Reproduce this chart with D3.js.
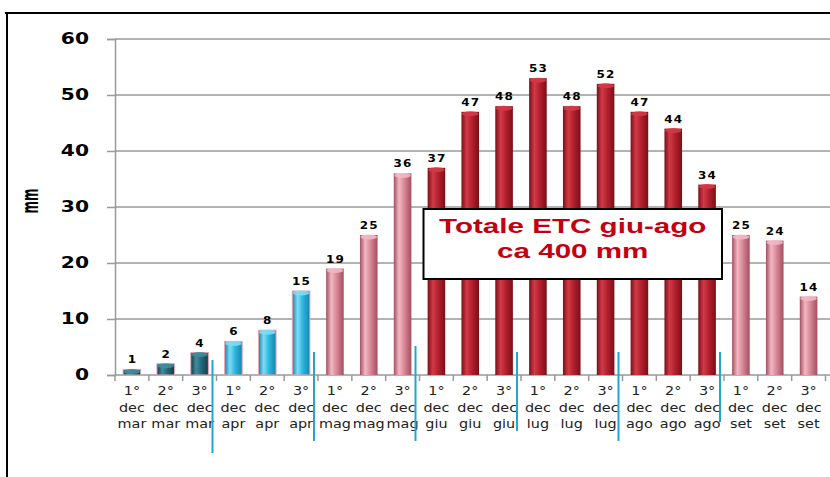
<!DOCTYPE html>
<html>
<head>
<meta charset="utf-8">
<script src="https://cdn.jsdelivr.net/npm/d3@7"></script>
<style>
  body { margin: 0; background: #fff; }
  svg { display: block; }
</style>
</head>
<body>
<script>
// decadi (1°, 2°, 3° dec) da marzo a settembre
var decadi = ["1°","2°","3°","1°","2°","3°","1°","2°","3°","1°","2°","3°","1°","2°","3°","1°","2°","3°","1°","2°","3°"];
var mesi = ["mar","mar","mar","apr","apr","apr","mag","mag","mag","giu","giu","giu","lug","lug","lug","ago","ago","ago","set","set","set"];
var etc = [1, 2, 4, 6, 8, 15, 19, 25, 36, 37, 47, 48, 53, 48, 52, 47, 44, 34, 25, 24, 14];
var yTicks = [0, 10, 20, 30, 40, 50, 60];

var width = 830, height = 477;

var svg = d3.select("body").append("svg")
    .attr("width", width)
    .attr("height", height);

// frame (top and left border)
svg.append("line").attr("x1", 5).attr("x2", width).attr("y1", 13).attr("y2", 13)
    .attr("stroke", "#000").attr("stroke-width", 2);
svg.append("line").attr("x1", 7).attr("x2", 7).attr("y1", 12).attr("y2", height)
    .attr("stroke", "#000").attr("stroke-width", 2);

var ids = d3.range(etc.length);
var x = d3.scaleBand().domain(ids).range([115, 825.5]).padding(0);
var y = d3.scaleLinear().domain([0, 60]).range([375, 39]);

// colour of each month (light, base, edge)
var palette = {
    mar: ["#3f8c9c", "#23687a", "#143c47"],
    apr: ["#7fdcf4", "#2ab5de", "#1783ab"],
    mag: ["#f2b8c3", "#d88796", "#a24f61"],
    giu: ["#d23a47", "#b2202d", "#7a0f18"],
    lug: ["#d23a47", "#b2202d", "#7a0f18"],
    ago: ["#d23a47", "#b2202d", "#7a0f18"],
    set: ["#f2b8c3", "#d88796", "#a24f61"]
};

var defs = svg.append("defs");
Object.keys(palette).forEach(function(m) {
    var c = palette[m];
    var g = defs.append("linearGradient").attr("id", "grad-" + m)
        .attr("x1", 0).attr("x2", 1).attr("y1", 0).attr("y2", 0);
    g.append("stop").attr("offset", "0%").attr("stop-color", c[2]);
    g.append("stop").attr("offset", "30%").attr("stop-color", c[0]);
    g.append("stop").attr("offset", "60%").attr("stop-color", c[1]);
    g.append("stop").attr("offset", "100%").attr("stop-color", c[2]);
});

// gridlines
svg.append("g").selectAll("line")
    .data(yTicks.filter(function(d) { return d > 0; }))
    .enter().append("line")
    .attr("x1", 115).attr("x2", width)
    .attr("y1", function(d) { return y(d); })
    .attr("y2", function(d) { return y(d); })
    .attr("stroke", "#999").attr("stroke-width", 1.5);

// y axis
var yAxis = svg.append("g")
    .attr("transform", "translate(115,0)")
    .call(d3.axisLeft(y).tickValues(yTicks).tickSize(8).tickFormat(d3.format("d")));
yAxis.select(".domain").attr("stroke", "#999").attr("stroke-width", 1.5);
yAxis.selectAll(".tick line").attr("stroke", "#999").attr("stroke-width", 1.5);
yAxis.selectAll(".tick text")
    .attr("x", 0).attr("dy", "0.3em")
    .attr("transform", "translate(-26,0) scale(1.35,1)")
    .attr("text-anchor", "end")
    .style("font-family", "DejaVu Sans")
    .style("font-weight", "bold")
    .style("font-size", "15px")
    .attr("fill", "#000");

// "mm" label
svg.append("text")
    .attr("transform", "translate(38,201) scale(1.9,1) rotate(-90)")
    .attr("text-anchor", "middle")
    .style("font-family", "DejaVu Sans")
    .style("font-weight", "bold")
    .style("font-size", "12px")
    .text("mm");

// x axis
var xAxis = svg.append("g")
    .attr("transform", "translate(0," + y(0) + ")");
xAxis.append("line").attr("x1", 115).attr("x2", width).attr("stroke", "#999").attr("stroke-width", 1.5);
xAxis.selectAll(".xt")
    .data(d3.range(etc.length + 1))
    .enter().append("line")
    .attr("class", "xt")
    .attr("x1", function(i) { return x.range()[0] + i * x.step(); })
    .attr("x2", function(i) { return x.range()[0] + i * x.step(); })
    .attr("y1", 0).attr("y2", 6)
    .attr("stroke", "#999").attr("stroke-width", 1.5);

var labels = svg.append("g").selectAll("g")
    .data(ids)
    .enter().append("g")
    .attr("transform", function(i) { return "translate(" + (x(i) + x.bandwidth() / 2) + ",0) scale(1.2,1)"; })
    .style("font-family", "DejaVu Sans")
    .style("font-size", "12px")
    .attr("fill", "#222")
    .attr("text-anchor", "middle");
labels.append("text").attr("y", 395).text(function(i) { return decadi[i]; });
labels.append("text").attr("y", 412).text("dec");
labels.append("text").attr("y", 428).text(function(i) { return mesi[i]; });

// bars
var bw = x.bandwidth() * 0.52;
var bars = svg.append("g").selectAll("g")
    .data(ids)
    .enter().append("g");
bars.append("rect")
    .attr("x", function(i) { return x(i) + (x.bandwidth() - bw) / 2; })
    .attr("y", function(i) { return y(etc[i]); })
    .attr("width", bw)
    .attr("height", function(i) { return y(0) - y(etc[i]); })
    .attr("fill", function(i) { return "url(#grad-" + mesi[i] + ")"; })
    .attr("stroke", function(i) { return (mesi[i] === "mar" || mesi[i] === "apr") ? "#e8a6b4" : "none"; })
    .attr("stroke-width", 1);
bars.append("ellipse")
    .attr("cx", function(i) { return x(i) + x.bandwidth() / 2; })
    .attr("cy", function(i) { return y(etc[i]) + 2; })
    .attr("rx", bw / 2 - 0.5)
    .attr("ry", 2.5)
    .attr("fill", function(i) { return palette[mesi[i]][0]; })
    .attr("opacity", 0.9);

// value labels
svg.append("g").selectAll("text")
    .data(ids)
    .enter().append("text")
    .attr("transform", function(i) { return "translate(" + (x(i) + x.bandwidth() / 2 + 0.5) + "," + (y(etc[i]) - 6) + ") scale(1.2,1)"; })
    .attr("text-anchor", "middle")
    .style("font-family", "DejaVu Sans")
    .style("font-weight", "bold")
    .style("font-size", "10px")
    .style("letter-spacing", "1px")
    .text(function(i) { return etc[i]; });

// month separators: index of first decade of month, top and bottom of line
var separators = [[3, 360, 453], [6, 352, 441], [9, 346, 441], [12, 352, 431], [15, 352, 441], [18, 352, 422]];
svg.append("g").selectAll("line")
    .data(separators)
    .enter().append("line")
    .attr("x1", function(d) { return x(d[0]) - 4; })
    .attr("x2", function(d) { return x(d[0]) - 4; })
    .attr("y1", function(d) { return d[1]; })
    .attr("y2", function(d) { return d[2]; })
    .attr("stroke", "#27a4c9").attr("stroke-width", 2);

// annotation box
var bx0 = x(9) + 4, bx1 = x(18) - 2;
var note = svg.append("g");
note.append("rect")
    .attr("x", bx0).attr("y", 209)
    .attr("width", bx1 - bx0).attr("height", 70)
    .attr("fill", "#fff").attr("stroke", "#000").attr("stroke-width", 2);
["Totale ETC giu-ago", "ca 400 mm"].forEach(function(t, k) {
    note.append("text")
        .attr("transform", "translate(" + ((bx0 + bx1) / 2) + "," + (233 + k * 25) + ") scale(1.48,1)")
        .attr("text-anchor", "middle")
        .style("font-family", "Liberation Sans")
        .style("font-weight", "bold")
        .style("font-size", "20px")
        .attr("fill", "#c4000f")
        .text(t);
});
</script>
</body>
</html>
